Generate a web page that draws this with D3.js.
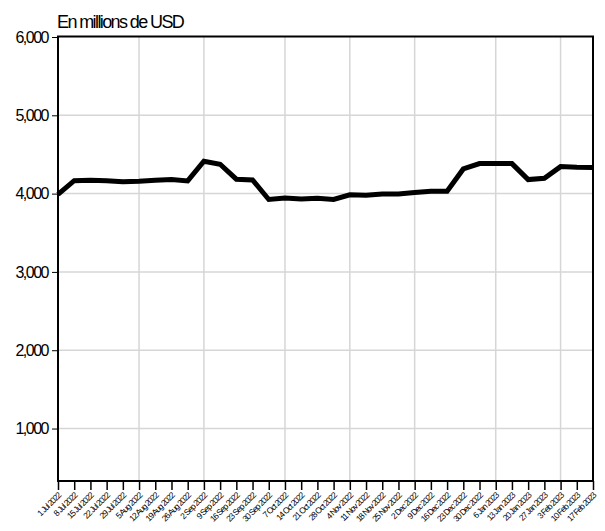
<!DOCTYPE html>
<html><head><meta charset="utf-8">
<script src="https://cdn.jsdelivr.net/npm/d3@7"></script>
<style>
body{margin:0;background:#fff;}
svg{display:block;font-family:"Liberation Sans",Arial,sans-serif;}
</style></head>
<body><svg id="c" width="605" height="531"></svg>
<script>
const dates = ["1 Jul 2022","8 Jul 2022","15 Jul 2022","22 Jul 2022","29 Jul 2022","5 Aug 2022","12 Aug 2022","19 Aug 2022","26 Aug 2022","2 Sep 2022","9 Sep 2022","16 Sep 2022","23 Sep 2022","30 Sep 2022","7 Oct 2022","14 Oct 2022","21 Oct 2022","28 Oct 2022","4 Nov 2022","11 Nov 2022","18 Nov 2022","25 Nov 2022","2 Dec 2022","9 Dec 2022","16 Dec 2022","23 Dec 2022","30 Dec 2022","6 Jan 2023","13 Jan 2023","20 Jan 2023","27 Jan 2023","3 Feb 2023","10 Feb 2023","17 Feb 2023"];
const values = [3990,4165,4170,4165,4150,4157,4170,4180,4162,4414,4375,4184,4175,3925,3945,3930,3940,3925,3985,3979,3996,3996,4013,4030,4030,4315,4383,4383,4383,4179,4196,4345,4336,4332];
const yTicks = [1000,2000,3000,4000,5000,6000];
const monthGrid = ["5 Aug 2022","2 Sep 2022","7 Oct 2022","4 Nov 2022","2 Dec 2022","6 Jan 2023","3 Feb 2023"];
const title = "En millions de USD";

const svg = d3.select("#c");
const L=58, R=593, T=36.5, B=481;
const x = d3.scalePoint().domain(dates).range([L,R]);
const y = d3.scaleLinear().domain([330,6000]).range([B,37]);

// gridlines
svg.append("g").selectAll("line").data(yTicks.slice(0,5)).join("line")
  .attr("x1",L).attr("x2",R).attr("y1",d=>y(d)).attr("y2",d=>y(d))
  .attr("stroke","#d6d6d6").attr("stroke-width",1.5);
svg.append("g").selectAll("line").data(monthGrid).join("line")
  .attr("x1",d=>x(d)).attr("x2",d=>x(d)).attr("y1",T).attr("y2",B)
  .attr("stroke","#d6d6d6").attr("stroke-width",1.5);

// line
svg.append("path").datum(values)
  .attr("fill","none").attr("stroke","#000").attr("stroke-width",5)
  .attr("stroke-linejoin","miter")
  .attr("d", d3.line().x((d,i)=>x(dates[i])).y(d=>y(d)));

// frame
svg.append("rect").attr("x",L).attr("y",T).attr("width",R-L).attr("height",B-T)
  .attr("fill","none").attr("stroke","#000").attr("stroke-width",2);

// y axis
const ya = svg.append("g").attr("transform",`translate(${L},0)`)
  .call(d3.axisLeft(y).tickValues(yTicks).tickSize(6).tickPadding(4).tickFormat(d3.format(",")));
ya.select(".domain").remove();
ya.selectAll(".tick line").attr("stroke","#000").attr("stroke-width",1);
ya.selectAll("text").attr("font-size",16).style("letter-spacing","-1.5px")
  .attr("fill","#000").attr("font-family","Liberation Sans, Arial, sans-serif");

// x axis
const xa = svg.append("g").attr("transform",`translate(0,${B})`)
  .call(d3.axisBottom(x).tickSize(9).tickPadding(2));
xa.select(".domain").remove();
xa.selectAll(".tick line").attr("stroke","#000").attr("stroke-width",1.5);
xa.selectAll("text").attr("font-size",8.5).style("letter-spacing","-1px")
  .attr("fill","#000").attr("font-family","Liberation Sans, Arial, sans-serif")
  .attr("text-anchor","end").attr("dy",null)
  .attr("transform","translate(3,15) rotate(-45)").attr("y",0).attr("x",0);

// title
svg.append("text").attr("x",L-1).attr("y",28).text(title)
  .attr("font-size",18).style("letter-spacing","-1.6px").attr("fill","#000");
</script></body></html>
